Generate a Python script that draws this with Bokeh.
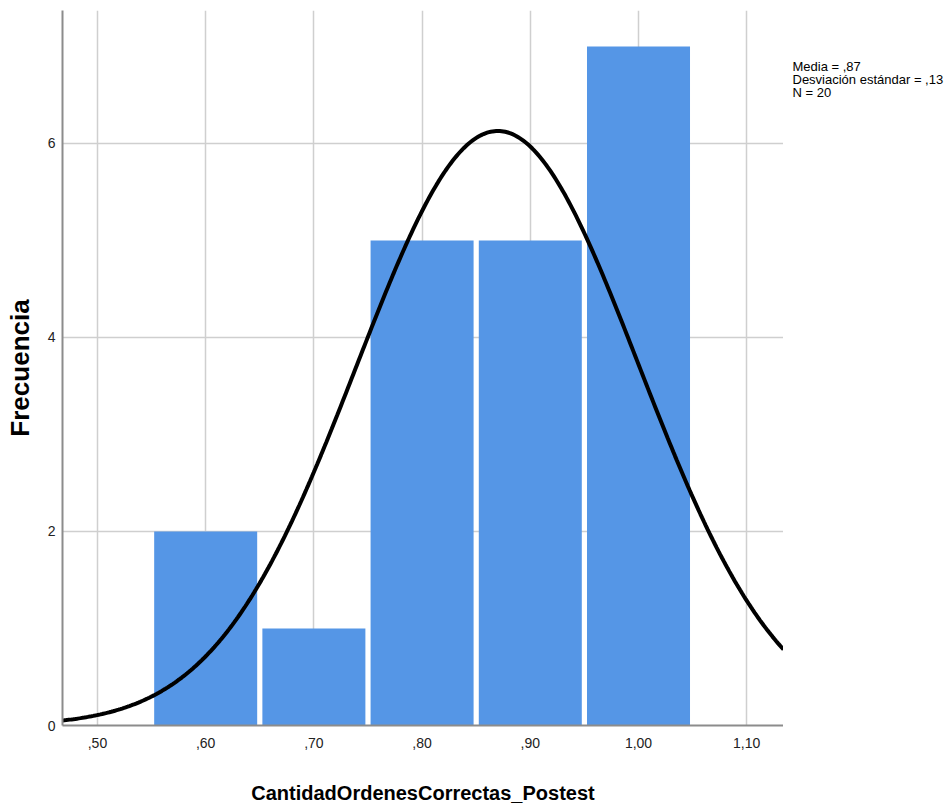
import numpy as np
from bokeh.plotting import figure
from bokeh.layouts import row
from bokeh.models import Range1d, FixedTicker
from bokeh.core.properties import value
from bokeh.embed import file_html
from bokeh.resources import INLINE

# ---- data ----
bin_centers = [0.60, 0.70, 0.80, 0.90, 1.00]
frequencies = [2, 1, 5, 5, 7]
bin_width = 0.10
x_ticks = [0.5, 0.6, 0.7, 0.8, 0.9, 1.0, 1.1]
x_tick_labels = [",50", ",60", ",70", ",80", ",90", "1,00", "1,10"]
y_ticks = [0, 2, 4, 6]
stats_lines = ["Media = ,87", "Desviación estándar = ,13", "N = 20"]
x_label = "CantidadOrdenesCorrectas_Postest"
y_label = "Frecuencia"

# ---- derived normal curve (from the sample the histogram describes) ----
values = np.repeat(bin_centers, frequencies)
n_obs = len(values)
mean = values.mean()
sd = values.std(ddof=1)

x_lo, x_hi = 0.46768, 1.134
xs = np.linspace(x_lo, x_hi, 400)
ys = n_obs * bin_width / (sd * np.sqrt(2 * np.pi)) * np.exp(-0.5 * ((xs - mean) / sd) ** 2)

FONT = "'Liberation Sans', Arial, sans-serif"
GRID = "#cfcfcf"

p = figure(width=783, height=807, output_backend="svg", toolbar_location=None,
           x_range=Range1d(x_lo, x_hi), y_range=Range1d(0, 7.371),
           min_border_left=62, min_border_right=0, min_border_top=10, min_border_bottom=82)
p.outline_line_color = None
p.background_fill_color = "white"
p.border_fill_color = "white"

p.xgrid.ticker = FixedTicker(ticks=x_ticks)
p.ygrid.ticker = FixedTicker(ticks=y_ticks)
for g in (p.xgrid, p.ygrid):
    g.grid_line_color = GRID
    g.grid_line_width = 1.5

# bars
p.vbar(x=bin_centers, top=frequencies, width=bin_width * 0.952, bottom=0,
       fill_color="#5596e6", line_color=None)

# normal curve
p.line(xs, ys, line_color="black", line_width=4)

# axes
p.xaxis.ticker = FixedTicker(ticks=x_ticks)
p.xaxis.major_label_overrides = {t: l for t, l in zip(x_ticks, x_tick_labels)}
p.yaxis.ticker = FixedTicker(ticks=y_ticks)
for ax in (p.xaxis, p.yaxis):
    ax.axis_line_color = "#8c8c8c"
    ax.axis_line_width = 2
    ax.major_tick_line_color = None
    ax.minor_tick_line_color = None
    ax.major_tick_out = 0
    ax.major_tick_in = 0
    ax.major_label_text_font = FONT
    ax.major_label_text_font_size = "14px"
    ax.major_label_text_color = "#222222"
    ax.axis_label_text_font = FONT
    ax.axis_label_text_font_style = "bold"
    ax.axis_label_text_color = "black"

p.xaxis.axis_label = x_label
p.xaxis.major_label_standoff = 12
p.xaxis.axis_label_text_font_size = "20px"
p.xaxis.axis_label_standoff = 31

p.yaxis.axis_label = y_label
p.yaxis.major_label_standoff = 7
p.yaxis.axis_label_text_font_size = "26px"
p.yaxis.axis_label_standoff = 10

# ---- side panel with the summary statistics (pixel coordinates, y down) ----
side_w = 952 - 783
s = figure(width=side_w, height=807, output_backend="svg", toolbar_location=None,
           x_range=Range1d(0, side_w), y_range=Range1d(807, 0),
           x_axis_type=None, y_axis_type=None, min_border=0)
s.outline_line_color = None
s.grid.visible = False
s.border_fill_color = "white"
stats_x = [9] * len(stats_lines)
stats_y = [63 + 14.5 * i for i in range(len(stats_lines))]
s.text(x=stats_x, y=stats_y, text=stats_lines, text_font=value(FONT), text_font_size="13px",
       text_color="black", text_baseline="alphabetic", text_align="left")

layout = row(p, s, spacing=0)
open("out.html", "w").write(file_html(layout, INLINE))
